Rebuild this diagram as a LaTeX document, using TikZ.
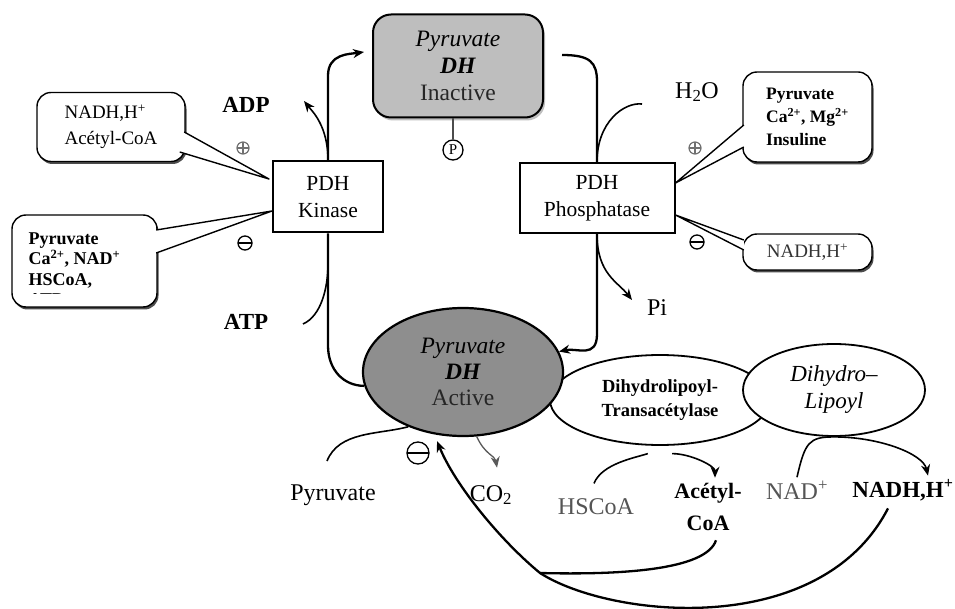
\documentclass[tikz,border=0pt]{standalone}
\usepackage{fontspec}
\setmainfont{Liberation Serif}
\usepackage{tikz}
\usetikzlibrary{arrows.meta,positioning,calc,shapes.geometric,shadows}
\definecolor{pdhin}{HTML}{BEBEBE}
\definecolor{pdhac}{HTML}{8E8E8E}
\definecolor{txtdim}{HTML}{555555}
\definecolor{sgn}{HTML}{707070}
\newcommand{\fsz}[2]{\fontsize{#1}{#2}\selectfont}
% speech-bubble tail: open side #1--#3, tip #2
\newcommand{\callptr}[3]{%
  \fill[white] #1 -- #2 -- #3 -- cycle;
  \draw[line width=1.4pt,line join=round] #1 -- #2 -- #3;}

\begin{document}
\begin{tikzpicture}[x=1pt,y=-1pt,
  flow/.style={line width=1.6pt},
  loopln/.style={line width=2.3pt},
  arr/.style={-{Stealth[length=11pt,width=9pt]}},
  enzbox/.style={draw,line width=2pt,fill=white,align=center,font=\fsz{21.5}{27}},
  bubble/.style={draw,line width=1.4pt,fill=white,rounded corners=14pt,
    drop shadow={shadow xshift=1.5pt,shadow yshift=-2.5pt,fill=black!70,opacity=1}},
  lab/.style={font=\fsz{24}{28}},
  boldlab/.style={font=\bfseries\fsz{23}{28}},
  inhib/.style={circle,draw,line width=1.3pt,inner sep=0pt,minimum size=#1,
    path picture={\draw[line width=1.3pt] (path picture bounding box.west) -- (path picture bounding box.east);}},
  activ/.style={circle,draw=sgn,line width=1.2pt,inner sep=0pt,minimum size=#1,
    path picture={\draw[sgn,line width=1.2pt] (path picture bounding box.west) -- (path picture bounding box.east)
      (path picture bounding box.north) -- (path picture bounding box.south);}}
  ]
  \fill[white] (0,0) rectangle (955,609);
  \useasboundingbox (0,0) rectangle (955,609);

  % enzymes
  \node[draw,line width=2pt,fill=pdhin,rounded corners=18pt,minimum width=170pt,minimum height=103pt,
    align=center,font=\fsz{23.5}{27},drop shadow={shadow xshift=2pt,shadow yshift=-3pt,fill=black!25,opacity=1}]
    (inact) at (458,66) {\textit{Pyruvate}\\\textbf{\textit{DH}}\\{\color{black!85}Inactive}};
  \node[enzbox,minimum width=110pt,minimum height=71pt] (kin) at (328,197) {PDH\\Kinase};
  \node[enzbox,minimum width=155pt,minimum height=70pt] (phos) at (597,198) {PDH\\Phosphatase};
  \node[ellipse,draw,line width=1.8pt,fill=white,minimum width=220pt,minimum height=90pt,
    align=center,font=\bfseries\fsz{18.5}{24}] (trans) at (660,400) {Dihydrolipoyl-\\Transacétylase};
  \node[ellipse,draw,line width=1.8pt,fill=white,minimum width=182pt,minimum height=92pt,
    align=center,font=\itshape\fsz{23}{27}] (dihyd) at (834,390) {Dihydro--\\Lipoyl};
  \node[ellipse,draw,line width=2.2pt,fill=pdhac,minimum width=200pt,minimum height=128pt,
    align=center,font=\fsz{23.5}{26}] (act) at (463,372) {\textit{Pyruvate}\\\textbf{\textit{DH}}\\{\color{black!85}Active}};

  % phosphate tag
  \node[circle,draw,line width=1.3pt,inner sep=0.5pt,minimum size=20pt,font=\fsz{15}{15}] (pp) at (453,150) {P};
  \draw[line width=1.2pt,black!70] (pp.north |- inact.south) -- (pp);

  % labels
  \node[boldlab] (adp) at (246,105) {ADP};
  \node[boldlab] (atp) at (246,322) {ATP};
  \node[lab] (h2o) at (697,92) {H\textsubscript{2}O};
  \node[lab] (pi) at (657,308) {Pi};
  \node[lab] (pyr) at (333,495) {Pyruvate};
  \node[lab] (co2) at (491,495) {CO\textsubscript{2}};
  \node[lab,text=txtdim] (hscoa) at (596,507) {HSCoA};
  \node[align=center,font=\bfseries\fsz{22}{32}] (acoa) at (708,507) {Acétyl-\\CoA};
  \node[lab,text=txtdim] (nad) at (797,490) {NAD\textsuperscript{+}};
  \node[boldlab] (nadh) at (903,490) {NADH,H\textsuperscript{+}};

  \coordinate (lin) at (364,52);
  \coordinate (rtop) at (562,55);
  \coordinate (adpin) at (304,101);
  \coordinate (atpout) at (303,324);
  \coordinate (h2oend) at (642,104);
  \coordinate (piin) at (632,300);
  \coordinate (fbj) at (540,573);
  \coordinate (fbtip) at (437,441);

  % interconversion loop
  \draw[loopln,arr] (kin.north) -- ++(0,-85) .. controls +(0,-22) and +(-14,2) .. (lin);
  \draw[loopln] (kin.south) -- ++(0,112) .. controls +(0,25) and +(-20,0) .. (act.188);
  \draw[loopln] (rtop) .. controls +(28,0) and +(0,-20) .. ([yshift=80pt]phos.north) -- (phos.north);
  \draw[loopln,arr] (phos.south) -- ++(0,100) .. controls +(0,25) and +(18,-4) .. (act.12);

  \draw[flow,arr] (kin.north) .. controls +(0,-35) and +(8,10) .. (adpin);
  \draw[flow] (atpout) .. controls +(18,-8) and +(0,25) .. ([yshift=-30pt]kin.south);
  \draw[flow] (phos.north) .. controls +(0,-40) and +(-18,-2) .. (h2oend);
  \draw[flow,arr] (phos.south) .. controls +(0,40) and +(-14,-18) .. (piin);

  % effectors
  \node[bubble,minimum width=148pt,minimum height=69pt,align=left,font=\fsz{19}{26}] (ca) at (111,127) {NADH,H\textsuperscript{+}\\Acétyl-CoA};
  \callptr{([xshift=-1.5pt,yshift=-5pt]ca.east)}{([xshift=-3pt,yshift=18pt]kin.west)}{([xshift=-6pt,yshift=-25pt]ca.east)}
  \node[bubble,minimum width=145pt,minimum height=92pt] (cb) at (84.5,261) {};
  \begin{scope}
    \clip ([shift={(2pt,-2pt)}]cb.north west) rectangle ([shift={(-2pt,14pt)}]cb.south east);
    \node[anchor=north west,align=left,font=\bfseries\fsz{18}{20.5}] (cbtxt) at (25,229)
      {Pyruvate\\Ca\textsuperscript{2+}, NAD\textsuperscript{+}\\HSCoA,\\ATP};
  \end{scope}
  \callptr{([xshift=-1.5pt,yshift=31pt]cb.east)}{([yshift=-14pt]kin.west)}{([xshift=-1.5pt,yshift=8pt]cb.east)}
  \node[bubble,minimum width=129pt,minimum height=90pt,align=left,font=\bfseries\fsz{17.5}{23}] (cc) at (807.5,117) {Pyruvate\\Ca\textsuperscript{2+}, Mg\textsuperscript{2+}\\Insuline};
  \callptr{([xshift=1.5pt,yshift=-8pt]cc.west)}{([yshift=15pt]phos.east)}{([xshift=1.5pt,yshift=-30pt]cc.west)}
  \node[bubble,minimum width=129pt,minimum height=36pt,font=\fsz{19}{22},text=black!80] (cd) at (807.5,252) {NADH,H\textsuperscript{+}};
  \callptr{([xshift=1.5pt,yshift=12pt]cd.west)}{([yshift=-17pt]phos.east)}{([xshift=1.5pt,yshift=2pt]cd.west)}

  \node[activ=12pt] (akin) at (243,148) {};
  \node[inhib=14pt] (ikin) at (245,243) {};
  \node[activ=12pt] (aphos) at (695,148) {};
  \node[inhib=14pt] (iphos) at (697,242) {};
  \node[inhib=22pt] (iact) at (418,453) {};

  % reactions
  \draw[flow] ([xshift=-6pt,yshift=20pt]pyr.north) .. controls +(12,-30) and +(-30,8) .. (act.225);
  \draw[line width=1.3pt,black!65,arr] (act.282) .. controls +(8,18) and +(-2,-12) .. ([xshift=6pt,yshift=14pt]co2.north);
  \draw[flow] ([xshift=-2pt,yshift=12pt]hscoa.north) .. controls +(8,-20) and +(-12,4) .. ([yshift=-8pt]trans.255);
  \draw[flow,arr] ([yshift=-8pt]trans.285) .. controls +(18,0) and +(0,-12) .. ([xshift=7pt,yshift=2pt]acoa.north);
  \draw[flow,arr] (nad.north) .. controls +(8,-35) and +(-25,0) .. (dihyd.south)
    .. controls +(45,0) and +(-5,-22) .. ([xshift=25pt]nadh.north);

  % feedback
  \draw[loopln] ([xshift=8pt,yshift=-6pt]acoa.south) .. controls +(-10,30) and +(80,2) .. (fbj);
  \draw[loopln,arr] ([xshift=-15pt,yshift=-4pt]nadh.south) .. controls (820,640) and (610,618) .. (fbj)
    .. controls (500,540) and (455,485) .. (fbtip);
\end{tikzpicture}
\end{document}
